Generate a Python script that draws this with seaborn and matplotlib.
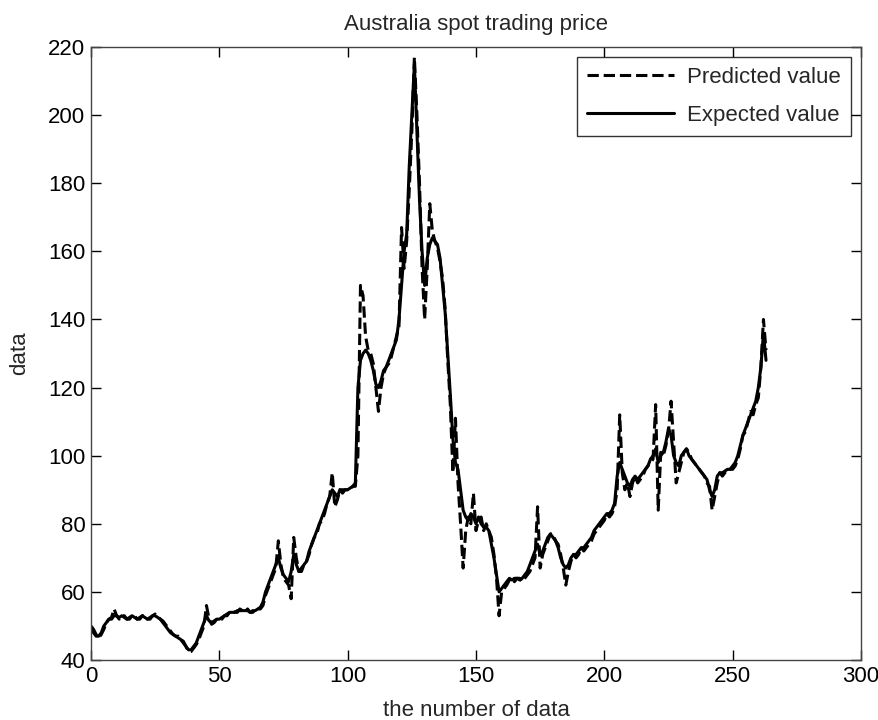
import matplotlib
matplotlib.use("Agg")
import matplotlib.pyplot as plt
import seaborn as sns
import numpy as np
import pandas as pd

# =========================
# DATA
# =========================

expected = [
    49, 48, 47, 47, 48, 50, 51, 52, 52, 53,
    53, 52.5, 53, 52.5, 52, 52.5, 53, 52.5, 52, 52.5,
    53, 52.5, 52, 52.5, 53, 53, 52.5, 52, 51, 50,
    49, 48, 47.5, 47, 46.5, 46, 45, 44, 43, 43,
    44, 45, 47, 49, 51, 53, 51.5, 51, 51.5, 52,
    52, 52.5, 53, 53.5, 54, 54, 54, 54.5, 54.5, 54.5,
    54.5, 54.5, 54, 54.5, 54.5, 55, 55.5, 57, 60, 62,
    64, 66, 68, 70, 67, 65, 64, 63, 66, 71,
    68, 66, 67, 68, 69, 72, 74, 76, 78, 80,
    82, 84, 86, 88, 90, 89, 88, 90, 90, 90,
    90, 90.5, 91, 92, 120, 128, 130, 131, 130, 128,
    125, 121, 120, 122, 125, 126, 128, 130, 132, 134,
    140, 150, 160, 165, 185, 200, 215, 195, 175, 160,
    150, 158, 162, 164, 163, 162, 158, 150, 142, 130,
    118, 105, 98, 96, 90, 84, 82, 81, 83, 82,
    80, 82, 80, 79, 79, 78, 74, 70, 65, 60,
    61, 62, 63, 64, 63.5, 64, 64, 63.5, 64, 65,
    66, 68, 70, 72, 74, 71, 72, 74, 76, 77,
    76, 75, 73, 70, 68, 67, 68, 70, 71, 71,
    72, 73, 73, 74, 75, 76, 78, 79, 80, 81,
    82, 83, 83, 84, 86, 94, 98, 96, 94, 92,
    91, 93, 94, 93, 94, 95, 96, 97, 99, 100,
    102, 98, 100, 101, 104, 108, 106, 100, 98, 97,
    100, 101, 102, 100, 99, 98, 97, 96, 95, 94,
    93, 90, 88, 90, 94, 95, 95, 95.5, 96, 96,
    97, 98, 100, 103, 106, 108, 110, 112, 114, 116,
    120, 126, 136, 128,
]

predicted = [
    50, 49, 47.5, 46.5, 47.5, 49, 51, 52, 52.5, 55,
    53, 52, 53, 53, 52, 52, 53, 53, 52, 52,
    53, 53, 52, 52, 53, 53.5, 53, 52, 51.5, 50.5,
    49.5, 48.5, 47.5, 47, 47, 46, 45.5, 44, 42.5, 42.5,
    43.5, 44.5, 46, 48, 50, 56, 52, 50.5, 51, 52,
    52, 52, 53, 53, 54, 54.5, 54, 54, 55, 54.5,
    54, 55, 54, 54, 54.5, 55, 55, 56, 59, 61,
    63, 65, 67, 75, 68, 64, 63, 62, 58, 76,
    70, 66, 66, 68, 69, 71, 74, 76, 77, 80,
    81, 83, 86, 88, 95, 85, 87, 90, 89, 90,
    90, 90, 91, 91, 100, 150, 147, 135, 131, 130,
    127, 120, 113, 120, 124, 126, 127, 129, 132, 135,
    138, 167, 155, 163, 178, 195, 217, 200, 180, 155,
    140, 155, 174, 166, 163, 161, 157, 152, 143, 128,
    115, 95, 111, 92, 80, 67, 78, 82, 80, 89,
    78, 81, 82, 78, 80, 78, 76, 71, 64, 53,
    60, 61, 62, 63.5, 64, 63, 64, 64, 63, 64,
    65, 66, 68, 70, 85, 67, 71, 73, 75, 77,
    77, 75, 74, 71, 67, 62, 66, 69, 71, 70,
    71, 73, 72, 73, 74, 75, 77, 78, 79, 80,
    81, 83, 82, 83, 85, 90, 112, 95, 90, 92,
    88, 92, 94, 92, 93, 94, 96, 97, 98, 99,
    115, 84, 101, 100, 103, 107, 116, 104, 92, 95,
    98, 101, 102, 101, 99, 98, 97, 96, 95, 94,
    92, 91, 84, 88, 92, 95, 94, 95, 96, 96,
    96, 97, 99, 102, 106, 107, 110, 113, 112, 115,
    117, 126, 140, 131,
]

index = list(range(len(expected)))

xticks = [0, 50, 100, 150, 200, 250, 300]
yticks = [40, 60, 80, 100, 120, 140, 160, 180, 200, 220]

df = pd.DataFrame({"n": index, "Predicted value": predicted, "Expected value": expected})

# =========================
# PLOT
# =========================

sns.set_style("ticks")
plt.rcParams["font.family"] = ["Liberation Sans", "DejaVu Sans"]

fs = 16

fig = plt.figure(figsize=(8.79, 7.2), dpi=100)
ax = fig.add_axes([0.1035, 0.0833, 0.876, 0.8514])

sns.lineplot(data=df, x="n", y="Predicted value", ax=ax, color="black",
             linestyle="--", linewidth=2.2, label="Predicted value")
sns.lineplot(data=df, x="n", y="Expected value", ax=ax, color="black",
             linestyle="-", linewidth=2.2, label="Expected value")

ax.set_xlim(0, 300)
ax.set_ylim(40, 220)
ax.set_xticks(xticks)
ax.set_yticks(yticks)
ax.tick_params(direction="in", length=7, width=1, top=True, right=True,
               labelsize=fs, colors="black", pad=4)
for s in ax.spines.values():
    s.set_visible(True)
    s.set_color("#444444")
    s.set_linewidth(1)

ax.set_title("Australia spot trading price", fontsize=fs, pad=12)
ax.set_xlabel("the number of data", fontsize=fs, labelpad=10)
ax.set_ylabel("data", fontsize=fs, labelpad=13)

leg = ax.legend(loc="upper right", fontsize=fs, frameon=True, fancybox=False,
                edgecolor="black", handlelength=3.9, handletextpad=0.6,
                borderpad=0.45, labelspacing=0.75, borderaxespad=0.45)
leg.get_frame().set_linewidth(1)

plt.savefig("out.png", dpi=100)
plt.close()
